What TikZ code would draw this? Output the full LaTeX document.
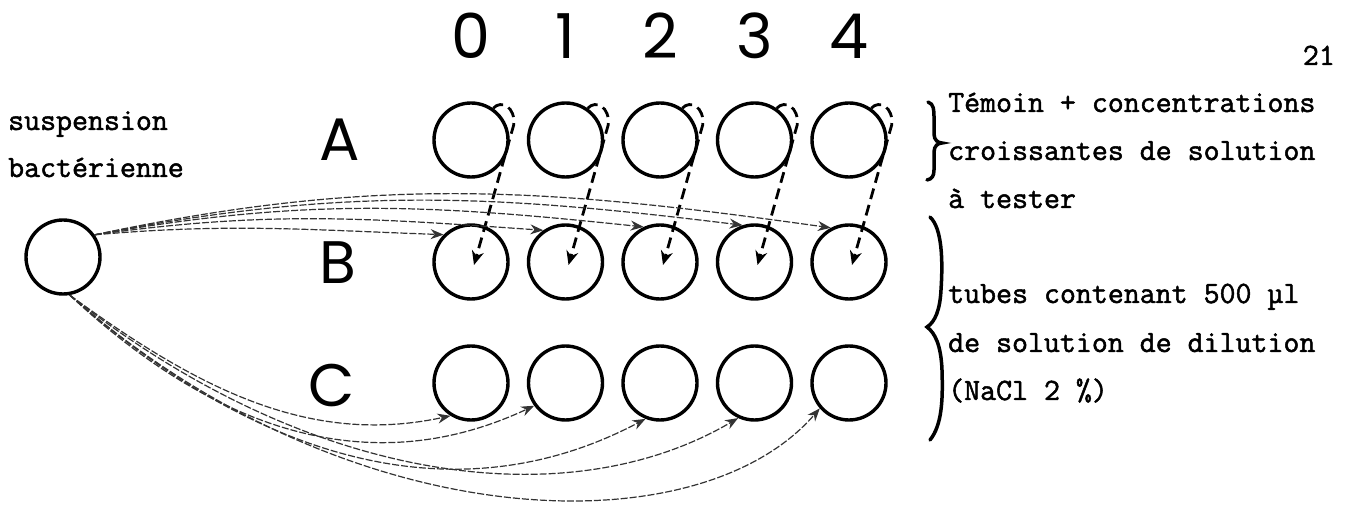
\documentclass[tikz,border=0pt]{standalone}
\usepackage{fontspec}
\newfontfamily\labfont{Poppins}
\newfontfamily\typefont{Latin Modern Mono}[FakeBold=1.6]
\usetikzlibrary{positioning, arrows.meta, calc}
\tikzset{
  tube/.style={
    draw, circle, line width=3.4pt,
    minimum size=74pt, inner sep=0pt
  },
  rowlab/.style={font=\labfont\fontsize{60}{60}\selectfont, inner sep=0pt},
  collab/.style={font=\labfont\fontsize{62}{62}\selectfont, inner sep=0pt},
  note/.style={font=\typefont\fontsize{31}{48}\selectfont, anchor=base west, inner sep=0pt},
  dilarr/.style={-{Stealth[length=14pt, width=12pt]}, line width=2.8pt, dash pattern=on 11pt off 6pt},
  inoarr/.style={-{Stealth[length=13pt, width=10pt]}, line width=1.2pt, black!80, dash pattern=on 7pt off 2pt},
  brc/.style={line width=3.5pt, line cap=round},
}
\begin{document}
\begin{tikzpicture}[x=1pt, y=1pt]
  \useasboundingbox (0,0) rectangle (1353,-518);
  % plate of tubes
  \foreach \i/\cx in {0/471, 1/565.5, 2/660, 3/754.5, 4/849}{
    \node[collab] (n\i) at (\cx, -36) {\i};
    \node[tube] (a\i) at (\cx, -140) {};
    \node[tube] (b\i) at (\cx, -262) {};
    \node[tube] (c\i) at (\cx, -383) {};
  }
  \node[rowlab] (la) at (340, -140) {A};
  \node[rowlab] (lb) at (338, -263) {B};
  \node[rowlab] (lc) at (332, -386) {C};
  % bacterial suspension
  \node[tube] (src) at (63, -257) {};
  \node[note] (susp) at (8, -130) {suspension};
  \node[note] (bact) at (8, -177) {bactérienne};
  % notes on the right
  \node[note, anchor=base east] (page) at (1335, -65) {21};
  \node[note] (t1) at (948, -112) {Témoin + concentrations};
  \node[note] (t2) at (948, -160) {croissantes de solution};
  \node[note] (t3) at (948, -208) {à tester};
  \node[note] (t4) at (948, -303) {tubes contenant 500 µl};
  \node[note] (t5) at (948, -352) {de solution de dilution};
  \node[note] (t6) at (948, -400) {(NaCl 2 \%)};
  \draw[brc] (928,-102) .. controls (934,-104) and (934,-110) .. (934,-118) -- (934,-134)
    .. controls (934,-140) and (938,-143) .. (942,-143)
    .. controls (938,-143) and (934,-146) .. (934,-152) -- (934,-170)
    .. controls (934,-176) and (932,-179) .. (927,-180);
  \draw[brc] (930,-217) .. controls (942,-228) and (943,-260) .. (941,-290)
    .. controls (940,-310) and (935,-322) .. (927,-327)
    .. controls (935,-333) and (941,-345) .. (942,-370)
    .. controls (943,-400) and (942,-425) .. (930,-440);
  % transfers A -> B
  \foreach \i in {0,...,4}
    \draw[dilarr] (a\i.55) .. controls +(8,9) and +(2,18) .. ($(a\i.east)+(4,15)$)
      -- ($(b\i.center)+(3,-3)$);
  % suspension -> B
  \foreach \i/\o/\n/\e in {0/5/178/135, 1/8/176/125, 2/10/174/115, 3/11/173/108, 4/12/172/118}
    \draw[inoarr] (src.35) to[out=\o, in=\n] (b\i.\e);
  % suspension -> C
  \foreach \i/\e/\ax/\ay/\bx/\by in {0/-122/130/-95/-140/-30, 1/-144/150/-140/-160/-75,
      2/-112/210/-185/-170/-90, 3/-115/240/-190/-170/-100, 4/-139/280/-245/-121/-140}
    \draw[inoarr] (src.-80) .. controls +(\ax,\ay) and +(\bx,\by) .. (c\i.\e);
\end{tikzpicture}
\end{document}
